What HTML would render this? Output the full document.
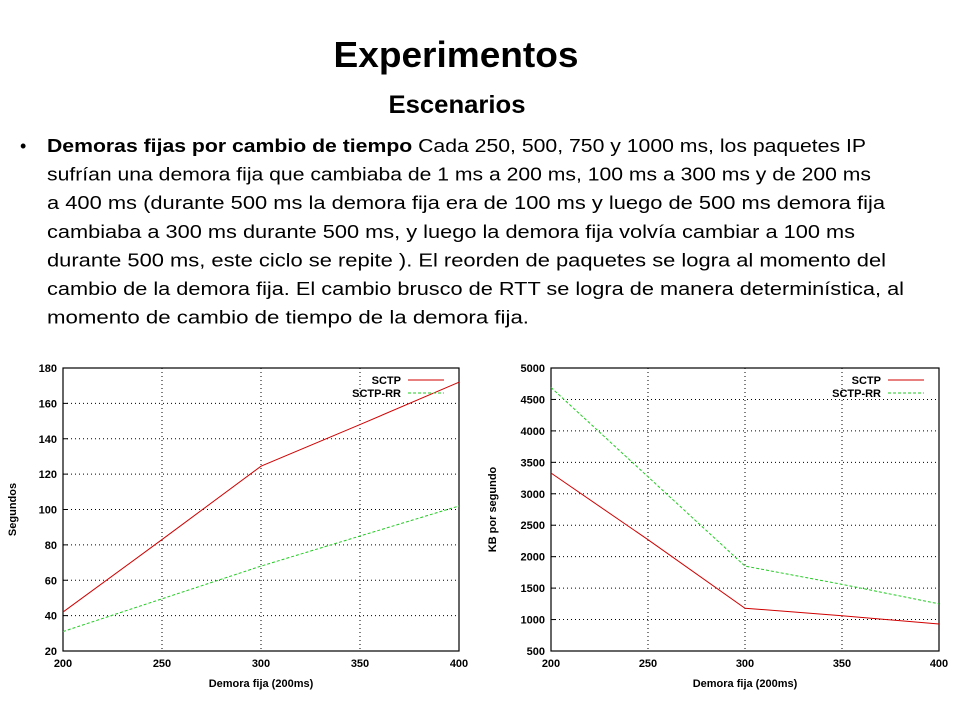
<!DOCTYPE html>
<html><head><meta charset="utf-8">
<style>
html,body{margin:0;padding:0;background:#fff;}
svg{display:block;}
.tk{font-family:"Liberation Sans",Arial,sans-serif;font-weight:bold;font-size:11px;fill:#000;}
.body{font-family:"Liberation Sans",sans-serif;font-size:18.5px;fill:#000;}
</style></head>
<body>
<svg id="page" width="960" height="720" viewBox="0 0 960 720">
  <text x="456" y="67" text-anchor="middle" font-family="Liberation Sans, sans-serif" font-weight="bold" font-size="36" textLength="245" lengthAdjust="spacingAndGlyphs">Experimentos</text>
  <text x="457" y="113" text-anchor="middle" font-family="Liberation Sans, sans-serif" font-weight="bold" font-size="25" textLength="137" lengthAdjust="spacingAndGlyphs">Escenarios</text>
  <text x="20" y="152" font-family="Liberation Sans, sans-serif" font-size="18">•</text>
  <g class="body">
    <text x="47" y="152" textLength="819" lengthAdjust="spacingAndGlyphs"><tspan font-weight="bold">Demoras fijas por cambio de tiempo</tspan> Cada 250, 500, 750 y 1000 ms, los paquetes IP</text>
    <text x="47" y="180.6" textLength="824" lengthAdjust="spacingAndGlyphs">sufrían una demora fija que cambiaba de 1 ms a 200 ms, 100 ms a 300 ms y de 200 ms</text>
    <text x="47" y="209.2" textLength="838" lengthAdjust="spacingAndGlyphs">a 400 ms (durante 500 ms la demora fija era de 100 ms y luego de 500 ms demora fija</text>
    <text x="47" y="237.8" textLength="808" lengthAdjust="spacingAndGlyphs">cambiaba a 300 ms durante 500 ms, y luego la demora fija volvía cambiar a 100 ms</text>
    <text x="47" y="266.4" textLength="839" lengthAdjust="spacingAndGlyphs">durante 500 ms, este ciclo se repite ). El reorden de paquetes se logra al momento del</text>
    <text x="47" y="295" textLength="857" lengthAdjust="spacingAndGlyphs">cambio de la demora fija. El cambio brusco de RTT se logra de manera determinística, al</text>
    <text x="47" y="323.6" textLength="482" lengthAdjust="spacingAndGlyphs">momento de cambio de tiempo de la demora fija.</text>
  </g>
  <g id="chart1"></g>
  <g id="chart2"></g>
</svg>
<script>
const xCategories = [200, 250, 300, 350, 400];
const xTicks = [200, 250, 300, 350, 400];
const c1Sctp = [42, 83, 124.5, 148, 172];
const c1SctpRR = [31, 49.5, 68, 85, 102];
const c1YTicks = [20, 40, 60, 80, 100, 120, 140, 160, 180];
const c2Sctp = [3330, 2270, 1180, 1060, 930];
const c2SctpRR = [4690, 3270, 1850, 1560, 1250];
const c2YTicks = [500, 1000, 1500, 2000, 2500, 3000, 3500, 4000, 4500, 5000];
const seriesNames = ["SCTP", "SCTP-RR"];

const NS = "http://www.w3.org/2000/svg";
function mk(tag, attrs, parent){const e=document.createElementNS(NS,tag);for(const k in attrs)e.setAttribute(k,attrs[k]);parent.appendChild(e);return e;}

function drawChart(g, L, R, T, B, yTicks, s1, s2, yTitle, titleX){
  const x0=xTicks[0], x1=xTicks[xTicks.length-1], y0=yTicks[0], y1=yTicks[yTicks.length-1];
  const sx=v=>L+(v-x0)/(x1-x0)*(R-L);
  const sy=v=>B-(v-y0)/(y1-y0)*(B-T);
  yTicks.forEach(v=>{
    const y=sy(v);
    if(v!==y0&&v!==y1){
      const gl=mk('line',{x1:L,x2:R,y1:y,y2:y,stroke:'#000','stroke-width':1,'stroke-dasharray':'1,3'},g);
      
      
    }
    const tm=mk('line',{x1:L,x2:L+5,y1:y,y2:y,stroke:'#000'},g);
    
    
    const t=mk('text',{x:L-6,y:y+4,'text-anchor':'end',class:'tk'},g);
    t.textContent=v;
    
    
  });
  xTicks.forEach(v=>{
    const x=sx(v);
    if(v!==x0&&v!==x1){
      const gl=mk('line',{x1:x,x2:x,y1:T,y2:B,stroke:'#000','stroke-width':1,'stroke-dasharray':'1,3'},g);
      
      
    }
    const t=mk('text',{x:x,y:B+16,'text-anchor':'middle',class:'tk'},g);
    t.textContent=v;
    
    
  });
  const frame=mk('rect',{x:L,y:T,width:R-L,height:B-T,fill:'none',stroke:'#000','stroke-width':1.2},g);
  
  
  const xt=mk('text',{x:(L+R)/2,y:B+36,'text-anchor':'middle',class:'tk'},g);
  xt.textContent='Demora fija (200ms)';
  
  
  const cy=(T+B)/2;
  const yt=mk('text',{x:titleX,y:cy,'text-anchor':'middle',class:'tk',transform:`rotate(-90 ${titleX} ${cy})`},g);
  yt.textContent=yTitle;
  
  
  const pts=s=>s.map((v,i)=>sx(xCategories[i])+','+sy(v)).join(' ');
  const l1=mk('polyline',{points:pts(s1),fill:'none',stroke:'#d00000','stroke-width':1},g);
  
  
  const l2=mk('polyline',{points:pts(s2),fill:'none',stroke:'#22cc22','stroke-width':1,'stroke-dasharray':'3,2'},g);
  
  
  const lx=R-58;
  [[seriesNames[0],'#d00000',null,T+12],[seriesNames[1],'#22cc22','3,2',T+25]].forEach(([n,c,d,y],i)=>{
    const t=mk('text',{x:lx,y:y+4,'text-anchor':'end',class:'tk'},g);
    t.textContent=n;
    
    
    const a={x1:lx+7,x2:lx+43,y1:y,y2:y,stroke:c};
    if(d)a['stroke-dasharray']=d;
    const ln=mk('line',a,g);
    
    
  });
}
drawChart(document.getElementById('chart1'),63,459,368,651,c1YTicks,c1Sctp,c1SctpRR,'Segundos',16);
drawChart(document.getElementById('chart2'),551,939,368,651,c2YTicks,c2Sctp,c2SctpRR,'KB por segundo',496);
</script>
</body></html>
